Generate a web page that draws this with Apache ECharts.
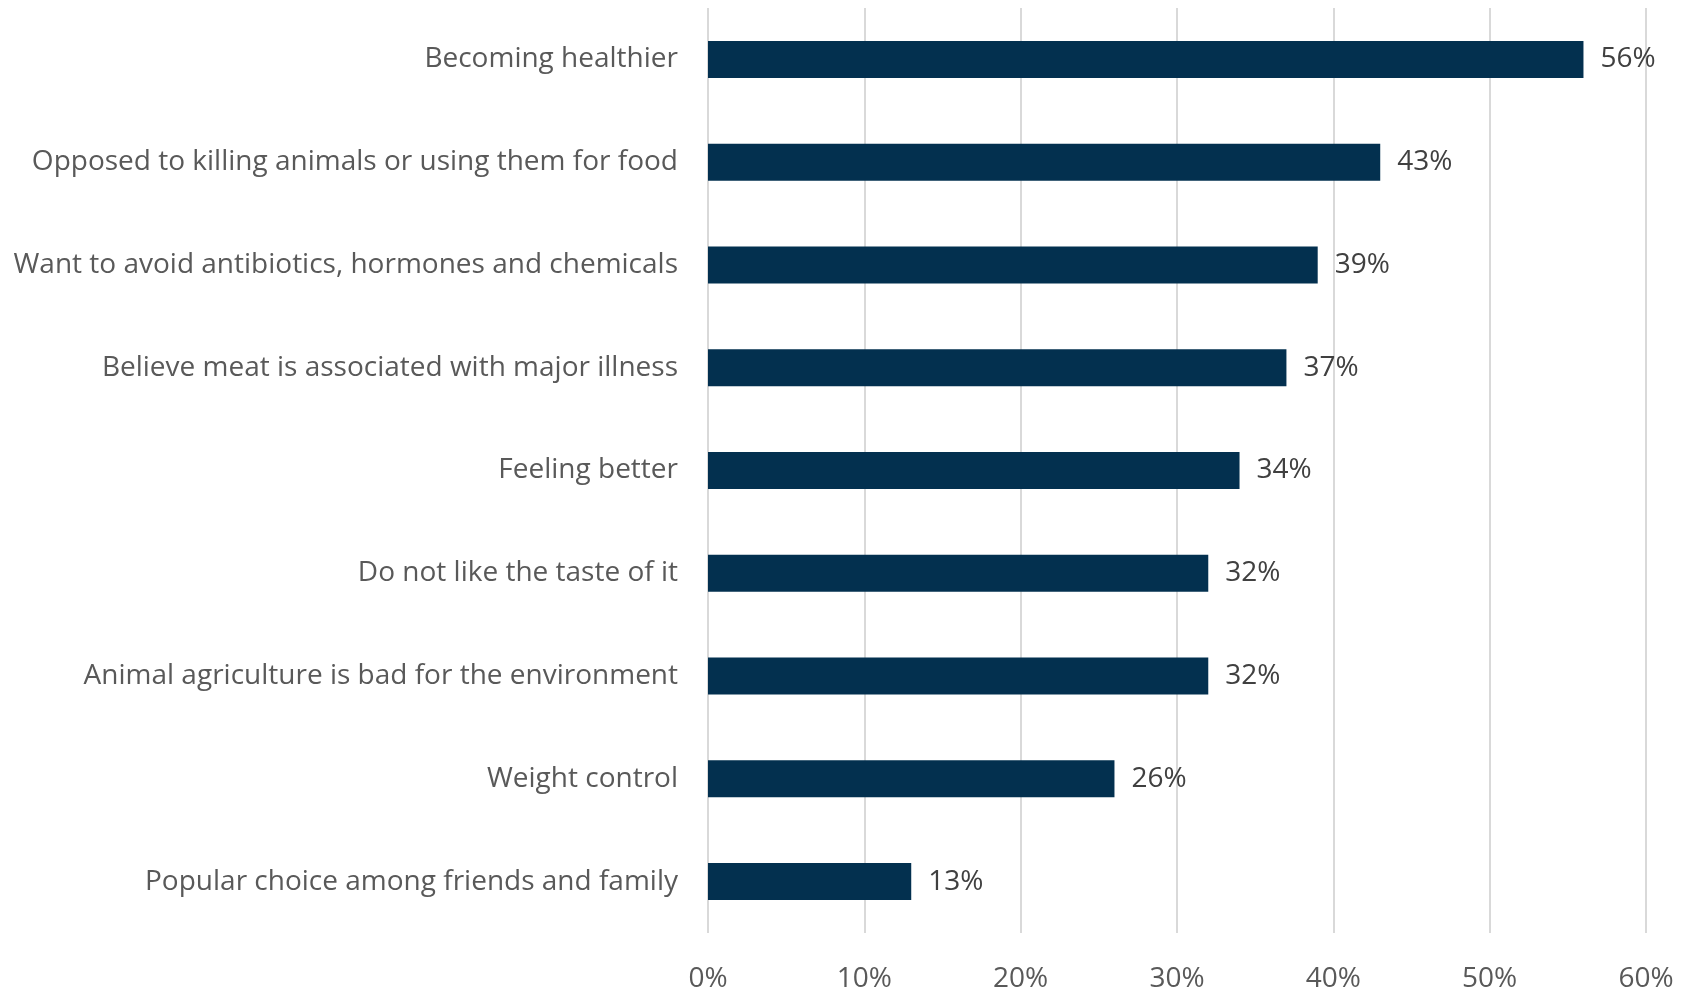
<!DOCTYPE html>
<html>
<head>
<meta charset="utf-8">
<script src="https://cdn.jsdelivr.net/npm/echarts@6/dist/echarts.min.js"></script>
<style>
  html, body { margin: 0; padding: 0; background: #fff; }
  #chart { width: 1682px; height: 989px; }
</style>
</head>
<body>
<div id="chart"></div>
<script>
var categories = [
  'Becoming healthier',
  'Opposed to killing animals or using them for food',
  'Want to avoid antibiotics, hormones and chemicals',
  'Believe meat is associated with major illness',
  'Feeling better',
  'Do not like the taste of it',
  'Animal agriculture is bad for the environment',
  'Weight control',
  'Popular choice among friends and family'
];
var shares = [56, 43, 39, 37, 34, 32, 32, 26, 13];

var myChart = echarts.init(document.getElementById('chart'));
myChart.setOption({
  animation: false,
  textStyle: { fontFamily: 'Open Sans' },
  grid: { left: 708, right: 36, top: 8, bottom: 56, outerBoundsMode: 'none' },
  xAxis: {
    type: 'value',
    min: 0,
    max: 60,
    interval: 10,
    axisLine: { show: false },
    axisTick: { show: false },
    axisLabel: {
      formatter: '{value}%',
      color: '#595959',
      fontSize: 28,
      margin: 32
    },
    splitLine: { lineStyle: { color: '#d9d9d9', width: 2 } }
  },
  yAxis: {
    type: 'category',
    data: categories,
    inverse: true,
    axisLine: { show: false },
    axisTick: { show: false },
    axisLabel: { color: '#595959', fontSize: 28, margin: 30 }
  },
  series: [{
    type: 'bar',
    data: shares,
    barCategoryGap: '64%',
    itemStyle: { color: '#03304f' },
    label: {
      show: true,
      position: 'right',
      distance: 17,
      formatter: '{c}%',
      color: '#404040',
      fontSize: 28
    }
  }]
});
</script>
</body>
</html>
